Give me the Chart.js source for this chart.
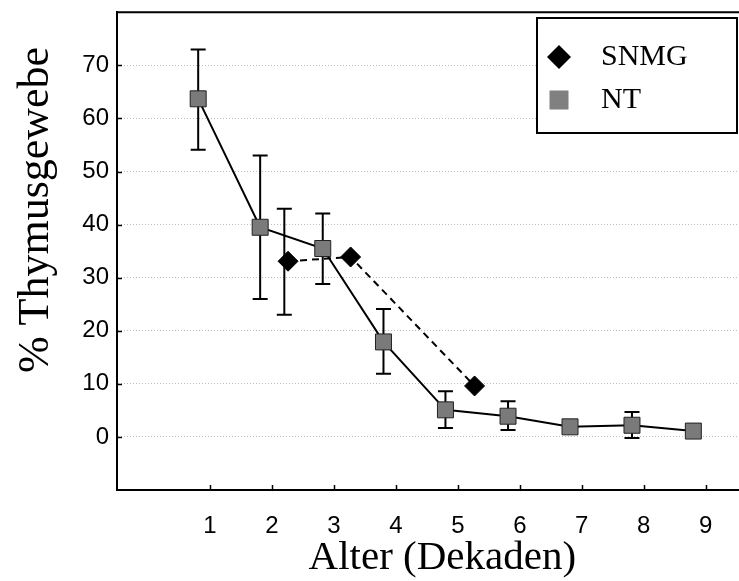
<!DOCTYPE html>
<html lang="de">
<head>
<meta charset="UTF-8">
<title>Thymusgewebe nach Alter</title>
<script src="https://cdn.jsdelivr.net/npm/chart.js"></script>
<style>
  html, body { margin: 0; padding: 0; background: #fff; overflow: hidden; }
  /* plot runs on past the right edge of the window, like the original */
  #wrap { width: 780px; height: 581px; }
</style>
</head>
<body>
<div id="wrap"><canvas id="thymusChart"></canvas></div>

<script>
// NT: mean values with error bars (null = no bar drawn)
const ntX    = [0.81, 1.81, 2.82, 3.80, 4.80, 5.81, 6.81, 7.81, 8.80];
const ntY    = [63.7, 39.5, 35.5, 17.9, 5.1, 3.9, 1.9, 2.2, 1.1];
const ntLow  = [54.1, 26.0, 28.8, 11.9, 1.7, 1.3, null, -0.2, null];
const ntHigh = [73.0, 53.0, 42.1, 24.1, 8.6, 6.7, null, 4.7, null];

// SNMG
const snmgX    = [2.26, 3.27, 5.27];
const snmgY    = [33.1, 33.9, 9.6];
const snmgErrX = [2.20];
const snmgLow  = [23.0];
const snmgHigh = [43.0];

// axis ticks
const xTicks = [1, 2, 3, 4, 5, 6, 7, 8, 9];
const yTicks = [0, 10, 20, 30, 40, 50, 60, 70];

const toPoints = (xs, ys) => xs.map((x, i) => ({ x: x, y: ys[i] }));

// vertical error bars with caps, drawn under the markers
const errorBars = {
    id: 'errorBars',
    beforeDatasetsDraw(chart) {
        const { ctx, scales: { x, y } } = chart;
        const sets = [
            { xs: ntX, lo: ntLow, hi: ntHigh },
            { xs: snmgErrX, lo: snmgLow, hi: snmgHigh }
        ];
        ctx.save();
        ctx.strokeStyle = '#000';
        ctx.lineWidth = 2;
        sets.forEach(s => {
            s.xs.forEach((v, i) => {
                if (s.lo[i] == null) return;
                const px = x.getPixelForValue(v);
                const top = y.getPixelForValue(s.hi[i]);
                const bot = y.getPixelForValue(s.lo[i]);
                ctx.beginPath();
                ctx.moveTo(px, top); ctx.lineTo(px, bot);
                ctx.moveTo(px - 7.5, top); ctx.lineTo(px + 7.5, top);
                ctx.moveTo(px - 7.5, bot); ctx.lineTo(px + 7.5, bot);
                ctx.stroke();
            });
        });
        ctx.restore();
    }
};

// inward tick marks + top frame line
const frame = {
    id: 'frame',
    afterDraw(chart) {
        const { ctx, chartArea: a, scales: { x, y } } = chart;
        ctx.save();
        ctx.strokeStyle = '#000';
        ctx.lineWidth = 1.5;
        ctx.beginPath();
        xTicks.forEach(v => {
            const px = Math.round(x.getPixelForValue(v)) + 0.5;
            ctx.moveTo(px, a.bottom); ctx.lineTo(px, a.bottom - 5);
        });
        yTicks.forEach(v => {
            const py = Math.round(y.getPixelForValue(v)) + 0.5;
            ctx.moveTo(a.left, py); ctx.lineTo(a.left + 5, py);
        });
        ctx.stroke();
        ctx.lineWidth = 2;
        ctx.beginPath();
        ctx.moveTo(a.left - 1, a.top); ctx.lineTo(chart.width, a.top);
        ctx.stroke();
        ctx.restore();
    }
};

// y title sits a bit above the middle of the axis, so it is placed by hand
const yTitle = {
    id: 'yTitle',
    afterDraw(chart) {
        const ctx = chart.ctx;
        ctx.save();
        ctx.translate(36, 210);
        ctx.rotate(-Math.PI / 2);
        ctx.font = '44px "Liberation Serif"';
        ctx.fillStyle = '#000';
        ctx.textAlign = 'center';
        ctx.textBaseline = 'middle';
        ctx.fillText('% Thymusgewebe', 0, 0);
        ctx.restore();
    }
};

// boxed legend in the upper right corner
const boxLegend = {
    id: 'boxLegend',
    afterDraw(chart) {
        const ctx = chart.ctx;
        const bx = 537, by = 18, bw = 200, bh = 115;
        ctx.save();
        ctx.fillStyle = '#fff';
        ctx.fillRect(bx, by, bw, bh);
        ctx.strokeStyle = '#000';
        ctx.lineWidth = 2;
        ctx.strokeRect(bx, by, bw, bh);

        // SNMG diamond
        ctx.fillStyle = '#000';
        ctx.beginPath();
        ctx.moveTo(559, 45); ctx.lineTo(571, 57); ctx.lineTo(559, 69); ctx.lineTo(547, 57);
        ctx.closePath();
        ctx.fill();
        // NT square
        ctx.fillStyle = '#808080';
        ctx.fillRect(549.5, 90.5, 19, 19);

        ctx.fillStyle = '#000';
        ctx.font = '30px "Liberation Serif"';
        ctx.textBaseline = 'middle';
        ctx.fillText('SNMG', 601, 57);
        ctx.fillText('NT', 601, 100);
        ctx.restore();
    }
};

const ctx = document.getElementById('thymusChart').getContext('2d');
const thymusChart = new Chart(ctx, {
    type: 'scatter',
    data: {
        datasets: [
            {
                label: 'NT',
                data: toPoints(ntX, ntY),
                showLine: true,
                borderColor: '#000',
                borderWidth: 2,
                pointStyle: 'rect',
                pointRadius: 11.3,
                pointBackgroundColor: '#7a7a7a',
                pointBorderColor: '#222',
                pointBorderWidth: 1
            },
            {
                label: 'SNMG',
                data: toPoints(snmgX, snmgY),
                showLine: true,
                borderColor: '#000',
                borderWidth: 2,
                borderDash: [7, 5],
                pointStyle: 'rectRot',
                pointRadius: 10,
                pointBackgroundColor: '#000',
                pointBorderColor: '#000',
                pointBorderWidth: 1
            }
        ]
    },
    options: {
        responsive: true,
        maintainAspectRatio: false,
        animation: false,
        layout: { padding: { top: 8, left: 0, right: 0, bottom: 0 } },
        plugins: {
            legend: { display: false },
            tooltip: { enabled: false }
        },
        scales: {
            x: {
                type: 'linear',
                min: -0.5,
                max: 10,
                afterBuildTicks: s => { s.ticks = xTicks.map(v => ({ value: v })); },
                afterFit: s => { s.height = 91; s.paddingLeft = 0; s.paddingRight = 0; },
                grid: { display: false, drawTicks: false },
                border: { display: true, color: '#000', width: 2 },
                ticks: {
                    autoSkip: false,
                    maxRotation: 0,
                    padding: 22,
                    color: '#000',
                    font: { family: '"Liberation Sans"', size: 24 }
                },
                title: {
                    display: true,
                    text: 'Alter (Dekaden)',
                    color: '#000',
                    padding: { top: 0, bottom: -2 },
                    font: { family: '"Liberation Serif"', size: 41 }
                }
            },
            y: {
                type: 'linear',
                min: -10,
                max: 80,
                afterBuildTicks: s => { s.ticks = yTicks.map(v => ({ value: v })); },
                afterFit: s => { s.width = 117; s.paddingTop = 0; s.paddingBottom = 0; },
                grid: { color: '#bdbdbd', lineWidth: 1, drawTicks: false },
                border: { display: true, color: '#000', width: 2, dash: [1, 2] },
                ticks: {
                    padding: 8,
                    color: '#000',
                    font: { family: '"Liberation Sans"', size: 24 }
                }
            }
        }
    },
    plugins: [errorBars, frame, yTitle, boxLegend]
});
</script>
</body>
</html>
